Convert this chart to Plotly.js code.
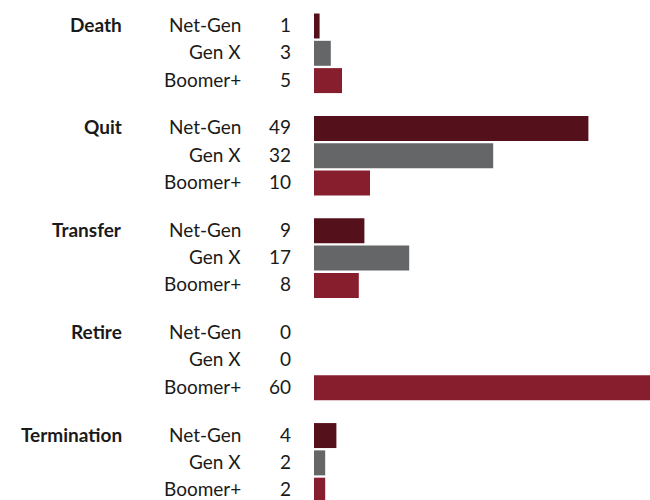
<!DOCTYPE html>
<html>
<head>
<meta charset="utf-8">
<script src="https://cdn.plot.ly/plotly-3.0.1.min.js"></script>
<style>html,body{margin:0;padding:0;background:#fff}#chart{width:650px;height:500px}</style>
</head>
<body>
<div id="chart"></div>
<script>
var reasons = ["Death", "Quit", "Transfer", "Retire", "Termination"];
var generations = ["Net-Gen", "Gen X", "Boomer+"];
var netGen = [1, 49, 9, 0, 4];
var genX = [3, 32, 17, 0, 2];
var boomer = [5, 10, 8, 60, 2];
var colors = ["#54111b", "#656667", "#871e2d"];

var series = [netGen, genX, boomer];
var GROUP = 3.75;
function pos(g, r) { return g * GROUP + r; }

var traces = series.map(function (vals, r) {
  return {
    type: "bar",
    orientation: "h",
    x: vals,
    y: reasons.map(function (_, g) { return pos(g, r); }),
    width: 0.915,
    marker: { color: colors[r] },
    name: generations[r],
    hoverinfo: "skip"
  };
});

var pxToPaper = function (px) { return (px - 314) / 336; };
var font = { family: "Lato, 'Open Sans', sans-serif", size: 19, color: "#1a1a1a" };
var annotations = [];
reasons.forEach(function (name, g) {
  annotations.push({
    text: "<b>" + name + "</b>", xref: "paper", yref: "y",
    x: pxToPaper(124), y: pos(g, 0), xanchor: "right", yanchor: "middle",
    yshift: 1.5, showarrow: false, font: font
  });
  generations.forEach(function (gen, r) {
    annotations.push({
      text: gen, xref: "paper", yref: "y",
      x: pxToPaper(243), y: pos(g, r), xanchor: "right", yanchor: "middle",
      yshift: 1.5, showarrow: false, font: font
    });
    annotations.push({
      text: String(series[r][g]), xref: "paper", yref: "y",
      x: pxToPaper(293), y: pos(g, r), xanchor: "right", yanchor: "middle",
      yshift: 1.5, showarrow: false, font: font
    });
  });
});

var layout = {
  width: 650, height: 500,
  margin: { l: 314, r: 0, t: 0, b: 0, pad: 0 },
  paper_bgcolor: "#fff", plot_bgcolor: "#fff",
  showlegend: false,
  barmode: "overlay",
  xaxis: { range: [0, 60], visible: false, fixedrange: true },
  yaxis: { range: [17.36, -0.952], visible: false, fixedrange: true },
  annotations: annotations
};

Plotly.newPlot("chart", traces, layout, { displayModeBar: false, staticPlot: true });
</script>
</body>
</html>
